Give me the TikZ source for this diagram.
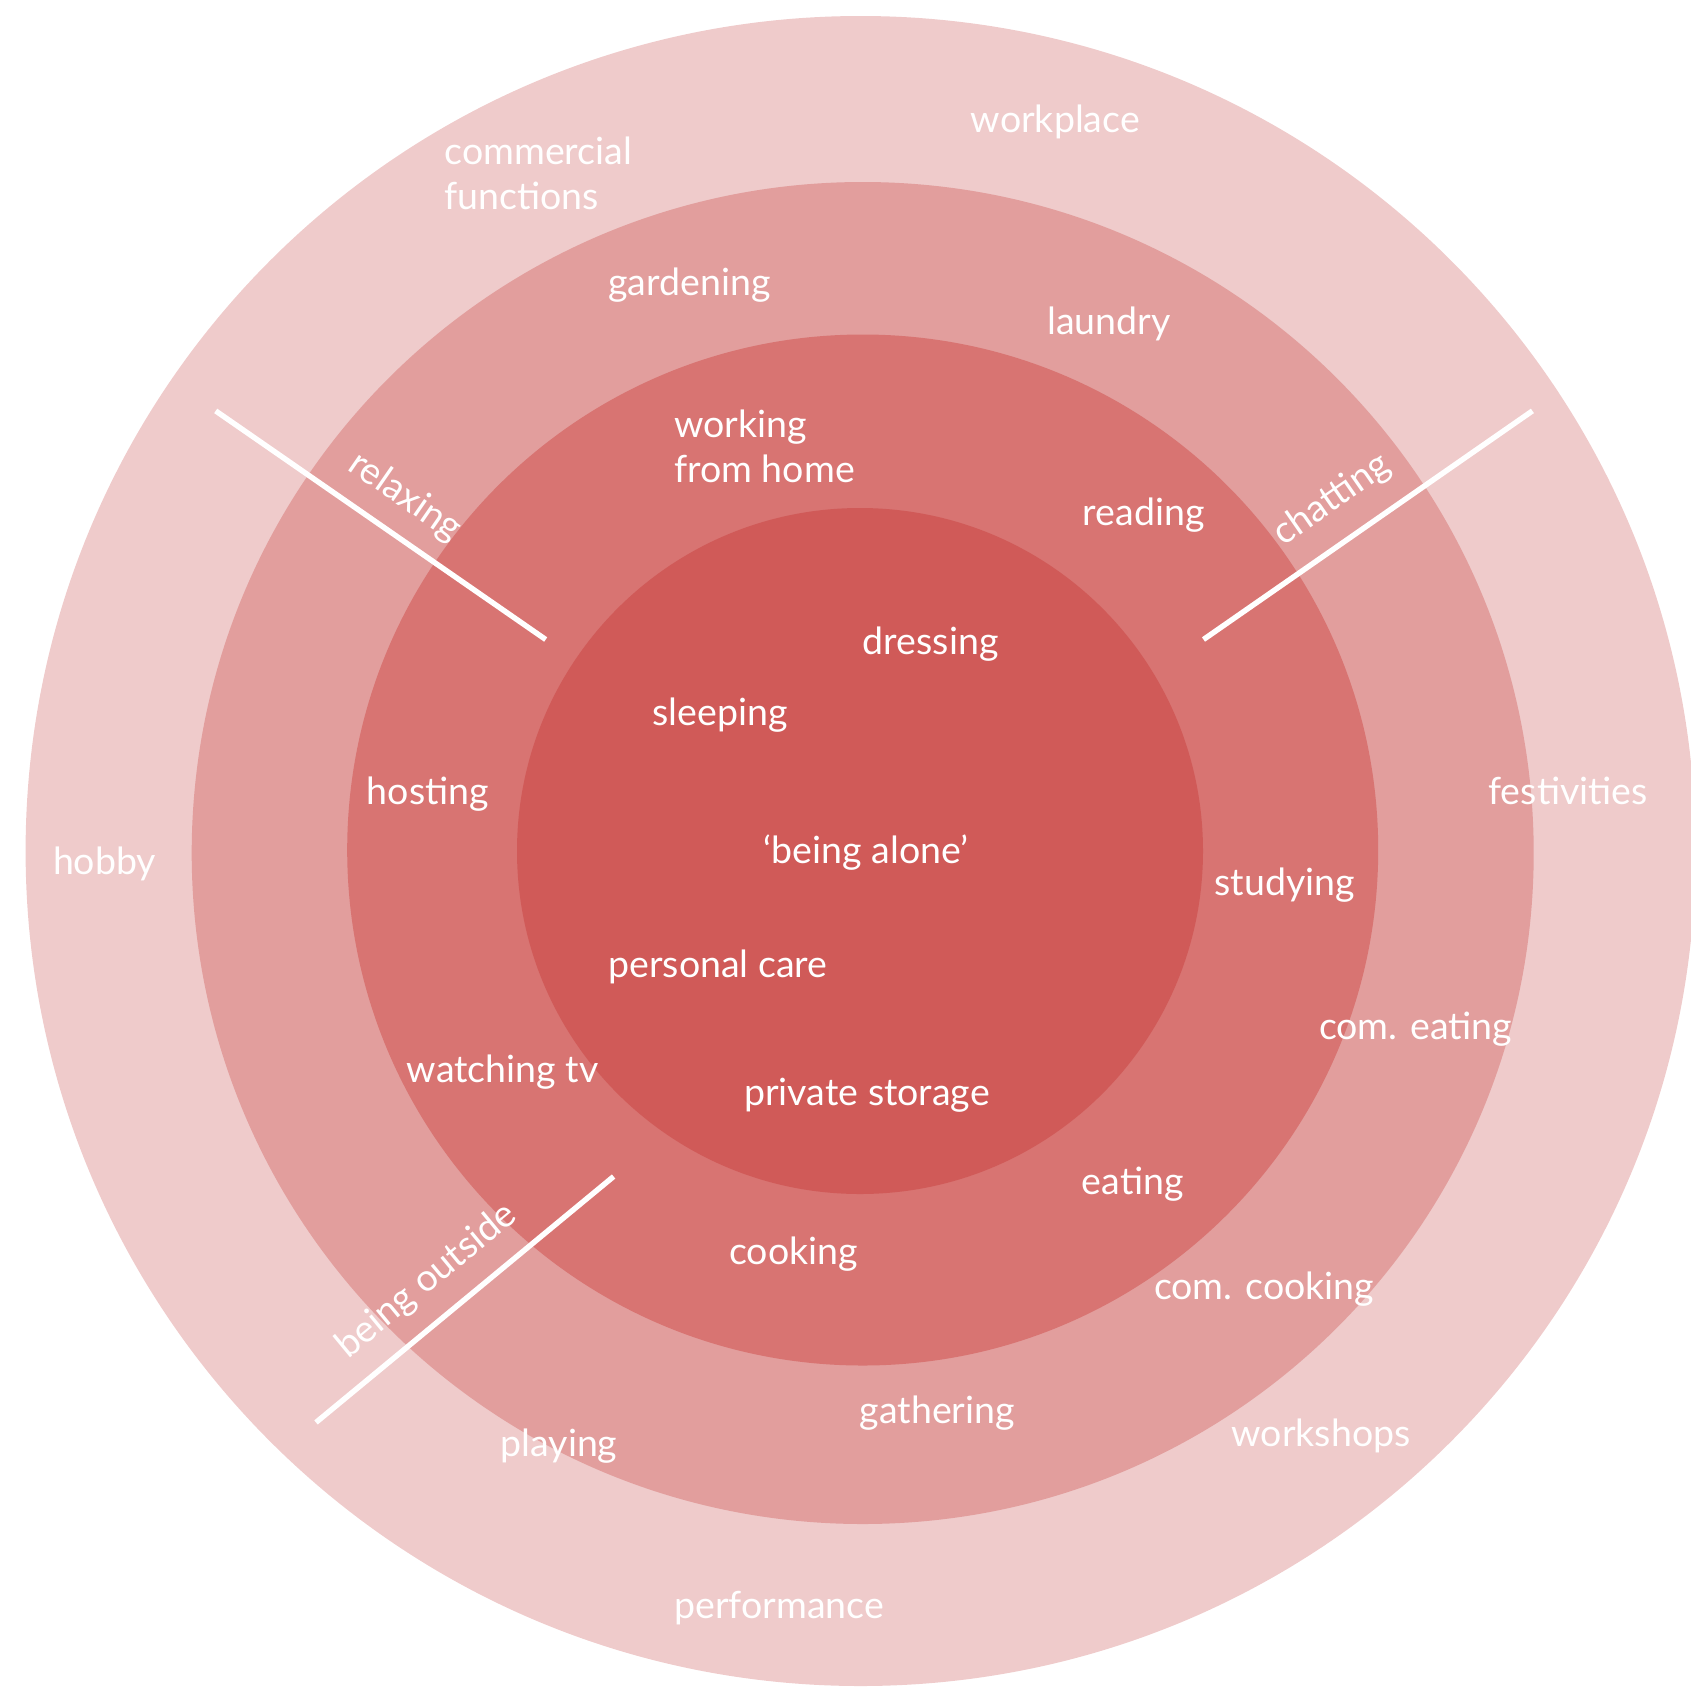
\documentclass[tikz,border=0pt]{standalone}
\usepackage{fontspec}
\setmainfont{Lato}
\definecolor{ringA}{HTML}{EFCBCB}
\definecolor{ringB}{HTML}{E29E9D}
\definecolor{ringC}{HTML}{D87472}
\definecolor{ringD}{HTML}{D05A58}
\begin{document}
\begin{tikzpicture}[x=1pt,y=-1pt,
  lbl/.style={text=white,font=\fontsize{37.5}{45}\selectfont,inner sep=0pt,anchor=base west,align=left},
  rlbl/.style={text=white,font=\fontsize{37.5}{45}\selectfont,inner sep=0pt,anchor=center},
  divider/.style={draw=white,line width=5.4pt}]
\useasboundingbox (0,0) rectangle (1691,1690);
\clip (0,0) rectangle (1691,1690);
\fill[ringA] (860.6,851) circle[radius=835];
\fill[ringB] (862.7,853) circle[radius=671];
\fill[ringC] (862.7,850) circle[radius=515.5];
\fill[ringD] (860,851) circle[radius=343];
% dividers
\coordinate (a1) at (215.7,410.9);
\coordinate (a2) at (545.7,639.5);
\coordinate (b1) at (1532.4,410.9);
\coordinate (b2) at (1203.5,639.5);
\coordinate (c1) at (613.6,1176.5);
\coordinate (c2) at (316,1422.4);
\draw[divider] (a1) -- (a2);
\draw[divider] (b1) -- (b2);
\draw[divider] (c1) -- (c2);
% rotated labels
\node[rlbl,rotate=-34.7] (relax) at (405,497) {relaxing};
\node[rlbl,rotate=34.8] (chat) at (1332,500) {chatting};
\node[rlbl,rotate=39.6] (outside) at (427,1281) {being outside};
% labels
\node[lbl] (workplace) at (970.6,132) {workplace};
\node[lbl] (commercial) at (444.3,209) {commercial\\functions};
\node[lbl] (gardening) at (608.2,295) {gardening};
\node[lbl] (laundry) at (1047,334) {laundry};
\node[lbl] (working) at (674,482) {working\\from home};
\node[lbl] (reading) at (1082.7,525) {reading};
\node[lbl] (dressing) at (862.7,654) {dressing};
\node[lbl] (sleeping) at (652.4,725) {sleeping};
\node[lbl] (hosting) at (366.7,804) {hosting};
\node[lbl] (festivities) at (1488.2,804) {festivities};
\node[lbl] (hobby) at (52.8,874) {hobby};
\node[lbl] (alone) at (763.5,863) {‘being alone’};
\node[lbl] (studying) at (1214.3,895) {studying};
\node[lbl] (care) at (608.2,977) {personal care};
\node[lbl] (comeating) at (1318.9,1039) {com. eating};
\node[lbl] (tv) at (406.6,1082) {watching tv};
\node[lbl] (storage) at (744.1,1105) {private storage};
\node[lbl] (eating) at (1081.6,1194) {eating};
\node[lbl] (cooking) at (729,1264) {cooking};
\node[lbl] (comcooking) at (1153.9,1299) {com. cooking};
\node[lbl] (gathering) at (859.5,1423) {gathering};
\node[lbl] (workshops) at (1231.5,1446) {workshops};
\node[lbl] (playing) at (500.4,1456) {playing};
\node[lbl] (performance) at (674,1618) {performance};
\end{tikzpicture}
\end{document}
